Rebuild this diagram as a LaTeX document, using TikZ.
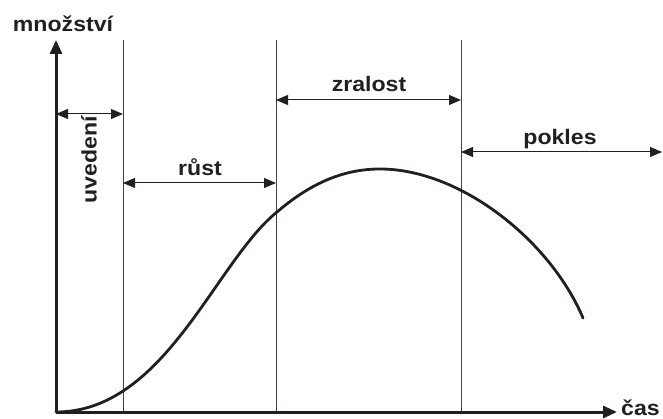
\documentclass[tikz,border=0pt]{standalone}
\usepackage{fontspec}
\setmainfont[FakeStretch=1.1]{Liberation Sans}
\usetikzlibrary{arrows.meta}
\definecolor{ink}{HTML}{231F20}
\tikzset{
  lbl/.style={font=\bfseries\fontsize{21}{25}\selectfont, text=ink, inner sep=0pt},
  axis/.style={draw=ink, line width=3pt, -{Triangle[length=14pt,width=12pt]}},
  divider/.style={draw=ink!85, line width=0.9pt},
  span/.style={draw=ink, line width=1pt, {Triangle[length=12pt,width=10pt]}-{Triangle[length=12pt,width=10pt]}},
  curve/.style={draw=ink, line width=2.8pt, line cap=round}
}
\begin{document}
\begin{tikzpicture}[x=1pt,y=-1pt]
\useasboundingbox (0,0) rectangle (663,419);
% axes
\coordinate (O) at (56,412);
\coordinate (ytop) at (56,40);
\coordinate (xend) at (617,412);
% dividers
\coordinate (d1t) at (123,40); \coordinate (d1b) at (123,412);
\coordinate (d2t) at (276,40); \coordinate (d2b) at (276,412);
\coordinate (d3t) at (461,40); \coordinate (d3b) at (461,412);
\draw[divider] (d1t) -- (d1b);
\draw[divider] (d2t) -- (d2b);
\draw[divider] (d3t) -- (d3b);
% curve
\coordinate (c0) at (56,412);
\coordinate (c1) at (277,212);
\coordinate (c2) at (380,169);
\coordinate (c3) at (583,318);
\draw[curve] (c0) .. controls (165,412) and (215,262) .. (c1)
  .. controls (312,182) and (345,169) .. (c2)
  .. controls (460,169) and (550,240) .. (c3);
\draw[axis] (O) -- (ytop);
\draw[axis] (O) -- (xend);
% span arrows
\coordinate (a1l) at (56,114); \coordinate (a1r) at (123,114);
\coordinate (a2l) at (123,183); \coordinate (a2r) at (276,183);
\coordinate (a3l) at (276,100); \coordinate (a3r) at (461,100);
\coordinate (a4l) at (461,152); \coordinate (a4r) at (662,152);
\draw[span] (a1l) -- (a1r);
\draw[span] (a2l) -- (a2r);
\draw[span] (a3l) -- (a3r);
\draw[span] (a4l) -- (a4r);
% labels
\node[lbl] (ylab) at (63,24) {množství};
\node[lbl, anchor=base west] (xlab) at (621,415) {čas};
\node[lbl, rotate=90] (l1) at (89,160) {uvedení};
\node[lbl] (l2) at (200,167) {růst};
\node[lbl] (l3) at (369,84) {zralost};
\node[lbl] (l4) at (560,139) {pokles};
\end{tikzpicture}
\end{document}
